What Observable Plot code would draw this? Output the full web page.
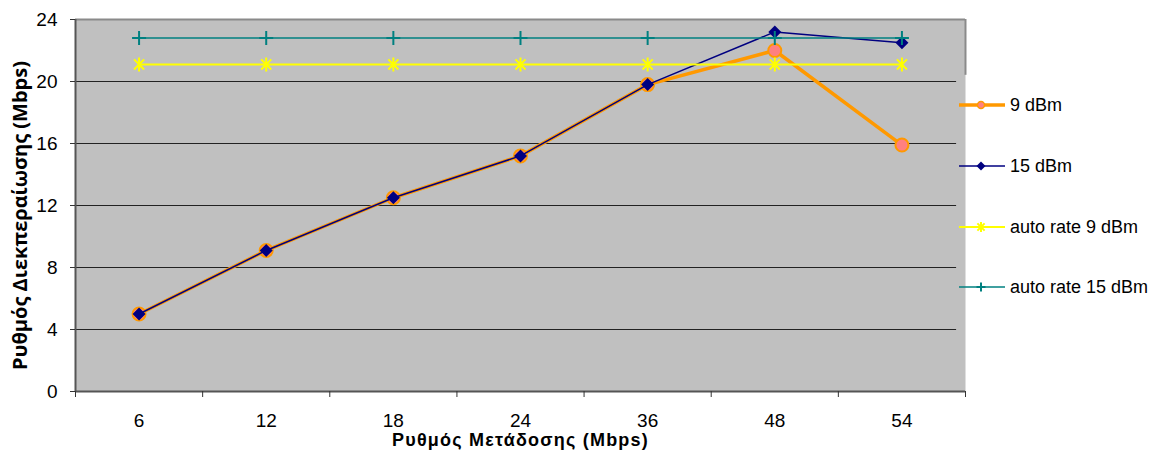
<!DOCTYPE html>
<html><head><meta charset="utf-8">
<script src="https://cdn.jsdelivr.net/npm/d3@7"></script>
<script src="https://cdn.jsdelivr.net/npm/@observablehq/plot@0.6"></script>
<style>
body{margin:0;background:#fff}
#wrap{position:relative;width:1156px;height:459px}
#wrap svg{position:absolute;left:0;top:0}
#wrap g.xtitle text{font-size:18px;font-weight:bold;letter-spacing:1.2px}
#wrap g.ytitle text{font-size:20px;font-weight:bold;font-family:'Open Sans',sans-serif}
</style>
</head><body><div id="wrap"></div>
<script>
const rates = ["6", "12", "18", "24", "36", "48", "54"];
const dbm9 = [5.0, 9.1, 12.5, 15.2, 19.8, 22.0, 15.9];
const dbm15 = [5.0, 9.1, 12.5, 15.2, 19.8, 23.2, 22.5];
const auto9 = [21.1, 21.1, 21.1, 21.1, 21.1, 21.1, 21.1];
const auto15 = [22.8, 22.8, 22.8, 22.8, 22.8, 22.8, 22.8];
const seriesNames = ["9 dBm", "15 dBm", "auto rate 9 dBm", "auto rate 15 dBm"];
const yTicks = [0, 4, 8, 12, 16, 20, 24];
const xTitle = "Ρυθμός Μετάδοσης (Mbps)";
const yTitle = "Ρυθμός Διεκπεραίωσης (Mbps)";

const idx = rates.map((_, i) => i);
const edges = rates.map((_, i) => i - 0.5).concat([rates.length - 0.5]);

const symAsterisk = {draw(c, size) {const r = Math.sqrt(size / Math.PI); const d = r * 0.72;
  c.moveTo(0, -r); c.lineTo(0, r); c.moveTo(-d, -d); c.lineTo(d, d); c.moveTo(-d, d); c.lineTo(d, -d);}};
const symPlus = {draw(c, size) {const r = Math.sqrt(size / Math.PI);
  c.moveTo(-r, 0); c.lineTo(r, 0); c.moveTo(0, -r); c.lineTo(0, r);}};
const symDiamond = {draw(c, size) {const r = Math.sqrt(size / Math.PI);
  c.moveTo(0, -r); c.lineTo(r, 0); c.lineTo(0, r); c.lineTo(-r, 0); c.closePath();}};

const C = {orange: "#FF9900", pink: "#FF8080", navy: "#000080", yellow: "#FFFF00", teal: "#008080"};

const chart = Plot.plot({
  width: 1156, height: 459,
  marginLeft: 75, marginRight: 191, marginTop: 19, marginBottom: 68,
  style: {fontFamily: "'Liberation Sans', Arial, sans-serif", fontSize: "19px", color: "#000", background: "transparent"},
  x: {domain: [-0.5, rates.length - 0.5]},
  y: {domain: [0, 24]},
  marks: [
    Plot.frame({fill: "#C0C0C0", stroke: null}),
    Plot.ruleY(yTicks.filter(v => v > 0 && v < 24), {x1: -0.5, x2: 6.43, stroke: "#222", strokeWidth: 1}),
    Plot.ruleY([24], {x1: -0.5, x2: 6.5, stroke: "#8a8a8a", strokeWidth: 2}),
    Plot.ruleX([6.5], {y1: 20.4, y2: 24, stroke: "#8a8a8a", strokeWidth: 2}),
    Plot.ruleY([0], {x1: -0.5, x2: 6.5, stroke: "#555", strokeWidth: 2}),
    Plot.ruleX([-0.5], {y1: 0, y2: 24, stroke: "#555", strokeWidth: 2}),
    Plot.axisY(yTicks, {tickSize: 5, tickPadding: 13, label: null, stroke: "#333"}),
    Plot.axisX(edges, {tickSize: 6, tickFormat: () => "", label: null, stroke: "#333"}),
    Plot.axisX(idx, {tickSize: 0, tickPadding: 22, tickFormat: i => rates[i], label: null}),
    Plot.line(idx, {x: i => i, y: i => dbm9[i], stroke: C.orange, strokeWidth: 3.5}),
    Plot.dot(idx, {x: i => i, y: i => dbm9[i], r: 6.5, fill: C.pink, stroke: C.orange, strokeWidth: 2}),
    Plot.line(idx, {x: i => i, y: i => dbm15[i], stroke: C.navy, strokeWidth: 1.5}),
    Plot.dot(idx, {x: i => i, y: i => dbm15[i], symbol: symDiamond, r: 6.5, fill: C.navy, stroke: null}),
    Plot.line(idx, {x: i => i, y: i => auto9[i], stroke: C.yellow, strokeWidth: 2}),
    Plot.dot(idx, {x: i => i, y: i => auto9[i], symbol: symAsterisk, r: 7, fill: "none", stroke: C.yellow, strokeWidth: 2}),
    Plot.line(idx, {x: i => i, y: i => auto15[i], stroke: C.teal, strokeWidth: 1.5}),
    Plot.dot(idx, {x: i => i, y: i => auto15[i], symbol: symPlus, r: 7, fill: "none", stroke: C.teal, strokeWidth: 2}),
    Plot.text([xTitle], {frameAnchor: "bottom", dy: 49, text: d => d, lineAnchor: "middle", textAnchor: "middle", className: "xtitle"}),
    Plot.text([yTitle], {frameAnchor: "left", dx: -55, dy: 10, rotate: -90, text: d => d, lineAnchor: "middle", textAnchor: "middle", className: "ytitle"})
  ]
});
document.getElementById("wrap").appendChild(chart);
d3.select(chart).selectAll('g[aria-label="x-axis tick label"] text, g[aria-label="y-axis tick label"] text')
  .style("font-size", "19px").style("font-family", "'Liberation Sans', Arial, sans-serif");

// Legend overlay
const legendY = [105, 166, 227, 287];
const legendStyle = [
  {stroke: C.orange, w: 3.5, sym: "circle"},
  {stroke: C.navy, w: 1.5, sym: "diamond"},
  {stroke: C.yellow, w: 2, sym: "asterisk"},
  {stroke: C.teal, w: 1.5, sym: "plus"}
];
const lg = d3.select("#wrap").append("svg").attr("width", 1156).attr("height", 459).style("pointer-events", "none");
seriesNames.forEach((name, i) => {
  const g = lg.append("g").attr("transform", `translate(0,${legendY[i]})`);
  const s = legendStyle[i];
  g.append("line").attr("x1", 959).attr("x2", 1005).attr("y1", 0).attr("y2", 0).attr("stroke", s.stroke).attr("stroke-width", s.w);
  const cx = 981;
  if (s.sym === "circle") g.append("circle").attr("cx", cx).attr("cy", 0).attr("r", 3.5).attr("fill", C.pink).attr("stroke", C.orange).attr("stroke-width", 1.5);
  if (s.sym === "diamond") g.append("path").attr("d", `M${cx},-4.5L${cx+4.5},0L${cx},4.5L${cx-4.5},0Z`).attr("fill", C.navy);
  if (s.sym === "asterisk") g.append("path").attr("d", `M${cx},-5V5M${cx-3.6},-3.6L${cx+3.6},3.6M${cx-3.6},3.6L${cx+3.6},-3.6`).attr("stroke", C.yellow).attr("stroke-width", 2).attr("fill", "none");
  if (s.sym === "plus") g.append("path").attr("d", `M${cx-4.5},0H${cx+4.5}M${cx},-4.5V4.5`).attr("stroke", C.teal).attr("stroke-width", 2).attr("fill", "none");
  g.append("text").attr("x", 1010).attr("y", 0).attr("dy", "0.35em").attr("font-family", "'Liberation Sans', Arial, sans-serif").attr("font-size", 18).text(name);
});
</script>
</body></html>
